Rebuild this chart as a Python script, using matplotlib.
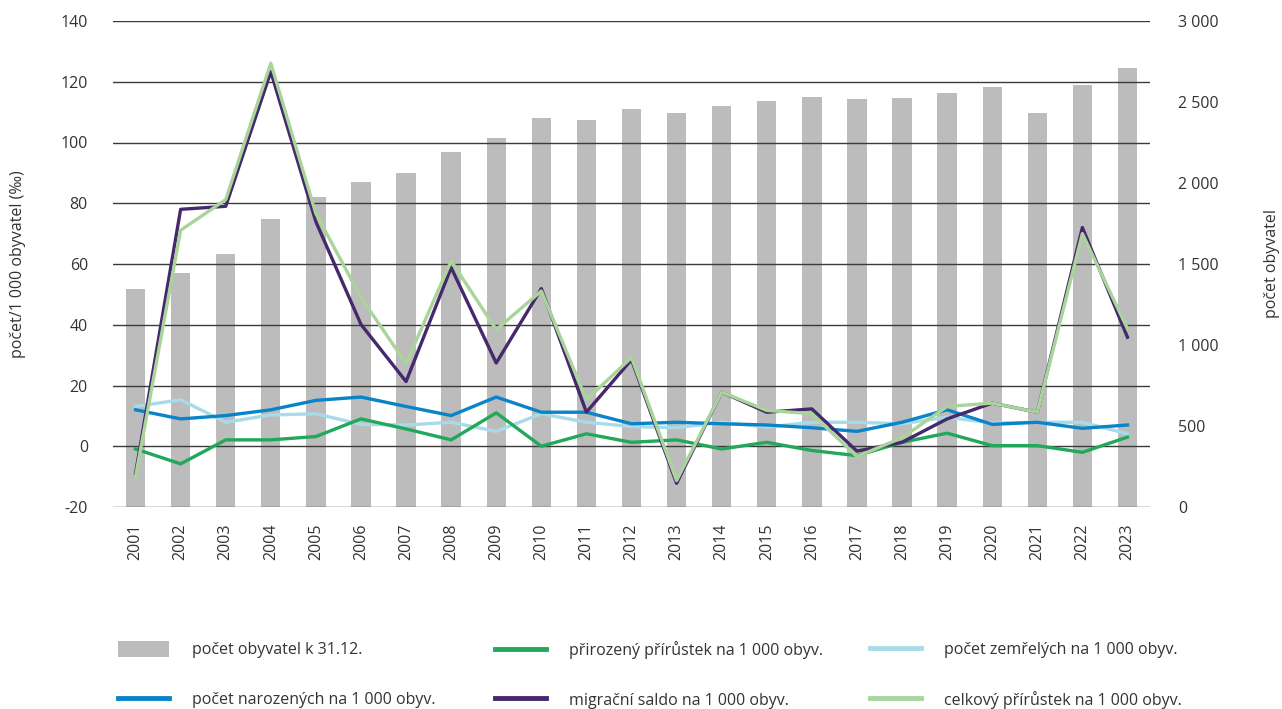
import matplotlib
matplotlib.use("Agg")
import matplotlib.pyplot as plt
from matplotlib.ticker import FuncFormatter, MultipleLocator
from matplotlib.patches import Patch
from matplotlib.lines import Line2D

years = [str(y) for y in range(2001, 2024)]
population = [1344, 1444, 1564, 1776, 1914, 2008, 2064, 2191, 2278, 2399, 2389,
              2459, 2432, 2473, 2506, 2531, 2519, 2523, 2556, 2591, 2430, 2607, 2712]
births = [12.0, 9.0, 10.1, 12.0, 15.1, 16.2, 13.1, 10.1, 16.2, 11.2, 11.2,
          7.4, 7.9, 7.4, 7.0, 6.1, 4.9, 7.9, 12.0, 7.2, 7.9, 5.9, 7.0]
deaths = [13.1, 15.3, 7.9, 10.3, 10.7, 7.2, 7.0, 7.9, 4.9, 10.7, 7.9,
          6.5, 6.1, 7.9, 6.3, 7.9, 7.9, 7.4, 9.6, 7.6, 7.9, 7.9, 4.1]
natural = [-0.9, -5.8, 2.1, 2.1, 3.2, 9.0, 5.7, 2.1, 11.0, 0.0, 4.1,
           1.3, 2.1, -0.9, 1.3, -1.4, -3.1, 1.3, 4.3, 0.2, 0.2, -2.0, 3.0]
migration = [-9.0, 78.0, 79.0, 123.3, 73.9, 40.1, 21.3, 58.8, 27.4, 51.9, 11.2,
             28.5, -12.2, 17.8, 11.2, 12.3, -1.6, 1.3, 9.0, 14.2, 11.2, 72.0, 35.9]
total = [-10.0, 71.1, 81.2, 126.1, 76.6, 49.0, 27.2, 61.0, 38.4, 51.1, 15.3,
         29.2, -11.3, 17.8, 11.8, 10.7, -3.4, 2.8, 13.1, 14.2, 11.2, 70.0, 38.7]

labels = ["počet obyvatel k 31.12.", "počet narozených na 1 000 obyv.",
          "přirozený přírůstek na 1 000 obyv.", "migrační saldo na 1 000 obyv.",
          "počet zemřelých na 1 000 obyv.", "celkový přírůstek na 1 000 obyv."]
left_label = "počet/1 000 obyvatel (‰)"
right_label = "počet obyvatel"

c_bar = "#bcbcbc"
c_birth = "#0a84c8"
c_death = "#a8dbe9"
c_nat = "#22a85a"
c_mig = "#46286c"
c_tot = "#a9d49a"
txt = "#333333"

plt.rcParams['font.family'] = ['Open Sans', 'DejaVu Sans']
plt.rcParams['axes.unicode_minus'] = False

fig = plt.figure(figsize=(12.82, 7.09), dpi=100)
ax = fig.add_axes([113/1282, 1-507/709, (1150-113)/1282, (507-21)/709])
ax2 = ax.twinx()
ax.set_zorder(ax2.get_zorder() + 1)
ax.patch.set_visible(False)

x = list(range(len(years)))
ax2.bar(x, population, width=0.43, color=c_bar, zorder=1)
ax2.set_ylim(0, 3000)
ax2.yaxis.set_major_locator(MultipleLocator(500))
ax2.yaxis.set_major_formatter(FuncFormatter(lambda v, p: f"{int(v):,}".replace(",", " ")))

lw = 2.4
ax.plot(x, births, color=c_birth, lw=lw, zorder=3)
ax.plot(x, deaths, color=c_death, lw=lw, zorder=2.9)
ax.plot(x, natural, color=c_nat, lw=lw, zorder=3.1)
ax.plot(x, migration, color=c_mig, lw=lw, zorder=3.2)
ax.plot(x, total, color=c_tot, lw=lw, zorder=3.3)

ax.set_ylim(-20, 140)
ax.set_xlim(-0.5, len(years) - 0.5)
ax.yaxis.set_major_locator(MultipleLocator(20))
ax.yaxis.grid(True, color="#3a3a3a", lw=1.0, zorder=0)
ax.set_axisbelow(True)
ax.set_xticks(x)
ax.set_xticklabels(years, rotation=90, fontsize=11.5, color=txt)

for a in (ax, ax2):
    for s in a.spines.values():
        s.set_visible(False)
    a.tick_params(length=0, labelsize=11.5, colors=txt)
ax.tick_params(axis='y', pad=18)
ax2.tick_params(axis='y', pad=20)
ax.tick_params(axis='x', pad=12)

fig.text(18/1282, 1-264/709, left_label, rotation=90, ha='center', va='center',
         fontsize=11.5, color=txt)
fig.text(1272/1282, 1-264/709, right_label, rotation=90, ha='center', va='center',
         fontsize=11.5, color=txt)

handles = [Patch(facecolor=c_bar, edgecolor='none'),
           Line2D([], [], color=c_birth, lw=3.5),
           Line2D([], [], color=c_nat, lw=3.5),
           Line2D([], [], color=c_mig, lw=3.5),
           Line2D([], [], color=c_death, lw=3.5),
           Line2D([], [], color=c_tot, lw=3.5)]

col_x = [107/1282, 484/1282, 859/1282]
for i in range(3):
    leg = fig.legend(handles[2*i:2*i+2], labels[2*i:2*i+2], loc='upper left',
                     bbox_to_anchor=(col_x[i], 1-630/709), frameon=False,
                     fontsize=11.5, handlelength=3.2, handleheight=1.1,
                     handletextpad=1.45, labelspacing=2.05, borderpad=0.2)
    for t in leg.get_texts():
        t.set_color(txt)

fig.savefig("out.png", dpi=100)
